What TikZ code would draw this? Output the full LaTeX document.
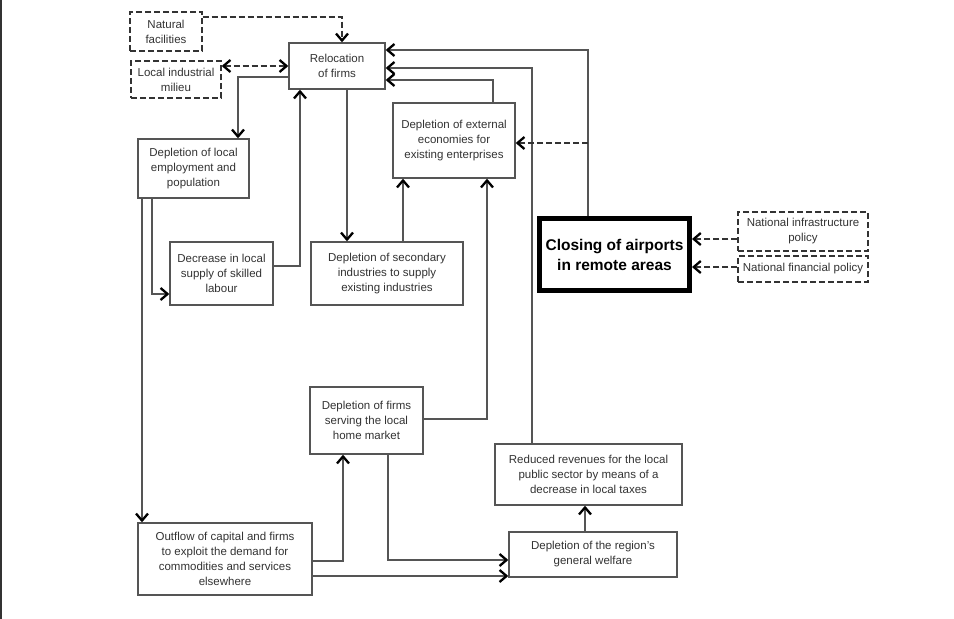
\documentclass[tikz,border=0pt]{standalone}
\usepackage{fontspec}
\setmainfont{Liberation Sans}
\usetikzlibrary{arrows.meta}
\definecolor{ln}{HTML}{555555}
\definecolor{tx}{HTML}{333333}
\tikzset{
  box/.style={draw=ln, line width=1.4pt, fill=white, inner sep=0pt, align=center, text=tx,
    font=\fontsize{11.5}{15}\selectfont},
  dbox/.style={box, dashed, dash pattern=on 6pt off 3pt, draw=black!80},
  bigbox/.style={draw=black, line width=5pt, fill=white, inner sep=0pt, align=center,
    font=\fontsize{15.5}{20}\selectfont\bfseries},
  tip/.tip={Straight Barb[length=7pt,width=12pt,line width=2.3pt]},
  arr/.style={draw=ln, line width=1.4pt, -{tip[black]}},
  darr/.style={draw=black!80, line width=1.4pt, dash pattern=on 6pt off 3pt, -{tip[black]}},
}
\begin{document}
\begin{tikzpicture}[x=1pt,y=-1pt]
\useasboundingbox (0,0) rectangle (954,619);
\fill[white] (0,0) rectangle (954,619);
\draw[black!80, line width=2pt] (1,0) -- (1,619);

% nodes
\node[dbox, minimum width=72pt, minimum height=39pt] (nat) at (166,31.5) {Natural\\facilities};
\node[dbox, minimum width=90pt, minimum height=37pt] (mil) at (176,79.5) {Local industrial\\milieu};
\node[box, minimum width=96pt, minimum height=46pt] (reloc) at (337,66) {Relocation\\of firms};
\node[box, minimum width=111pt, minimum height=59pt] (emp) at (193.5,168.5) {Depletion of local\\employment and\\population};
\node[box, minimum width=103pt, minimum height=63pt] (dec) at (221.5,273.5) {Decrease in local\\supply of skilled\\labour};
\node[box, minimum width=152pt, minimum height=63pt] (sec) at (387,273.5) {Depletion of secondary\\industries to supply\\existing industries};
\node[box, minimum width=122pt, minimum height=75pt] (ext) at (454,140.5) {Depletion of external\\economies for\\existing enterprises};
\node[bigbox, minimum width=150pt, minimum height=72pt] (clos) at (614.5,254.5) {Closing of airports\\in remote areas};
\node[dbox, minimum width=130pt, minimum height=39pt] (nip) at (803,231.5) {National infrastructure\\policy};
\node[dbox, minimum width=130pt, minimum height=26pt] (nfp) at (803,269) {National financial policy};
\node[box, minimum width=113pt, minimum height=67pt] (firms) at (366.5,420.5) {Depletion of firms\\serving the local\\home market};
\node[box, minimum width=187pt, minimum height=61pt] (rev) at (588.5,474.5) {Reduced revenues for the local\\public sector by means of a\\decrease in local taxes};
\node[box, minimum width=174pt, minimum height=72pt] (out) at (225,559) {Outflow of capital and firms\\to exploit the demand for\\commodities and services\\elsewhere};
\node[box, minimum width=168pt, minimum height=45pt] (wel) at (593,554.5) {Depletion of the region's\\general welfare};

\coordinate (cx) at (588,143);

% connectors
\draw[darr] (nat.east |- 0,17) -| (342,0 |- reloc.north);
\draw[darr, {tip[black]}-{tip[black]}] (mil.east |- 0,66) -- (reloc.west |- 0,66);
\draw[arr] (reloc.west |- 0,77) -| (238,0 |- emp.north);
\draw[arr] (152,0 |- emp.south) |- (dec.west |- 0,294);
\draw[arr] (142,0 |- emp.south) -- (142,0 |- out.north);
\draw[arr] (dec.east |- 0,266) -| (300,0 |- reloc.south);
\draw[arr] (347,0 |- reloc.south) -- (347,0 |- sec.north);
\draw[arr] (403,0 |- sec.north) -- (403,0 |- ext.south);
\draw[arr] (493,0 |- ext.north) |- (reloc.east |- 0,80);
\draw[arr] (588,0 |- clos.north) |- (reloc.east |- 0,50);
\draw[arr] (532,0 |- rev.north) |- (reloc.east |- 0,68);
\draw[darr] (cx) -- (ext.east |- cx);
\draw[arr] (firms.east |- 0,419) -| (487,0 |- ext.south);
\draw[arr] (out.east |- 0,561) -| (343,0 |- firms.south);
\draw[arr] (388,0 |- firms.south) |- (wel.west |- 0,560);
\draw[arr] (out.east |- 0,576) -- (wel.west |- 0,576);
\draw[arr] (585,0 |- wel.north) -- (585,0 |- rev.south);
\draw[darr] (nip.west |- 0,239) -- (clos.east |- 0,239);
\draw[darr] (nfp.west |- 0,267) -- (clos.east |- 0,267);
\end{tikzpicture}
\end{document}
